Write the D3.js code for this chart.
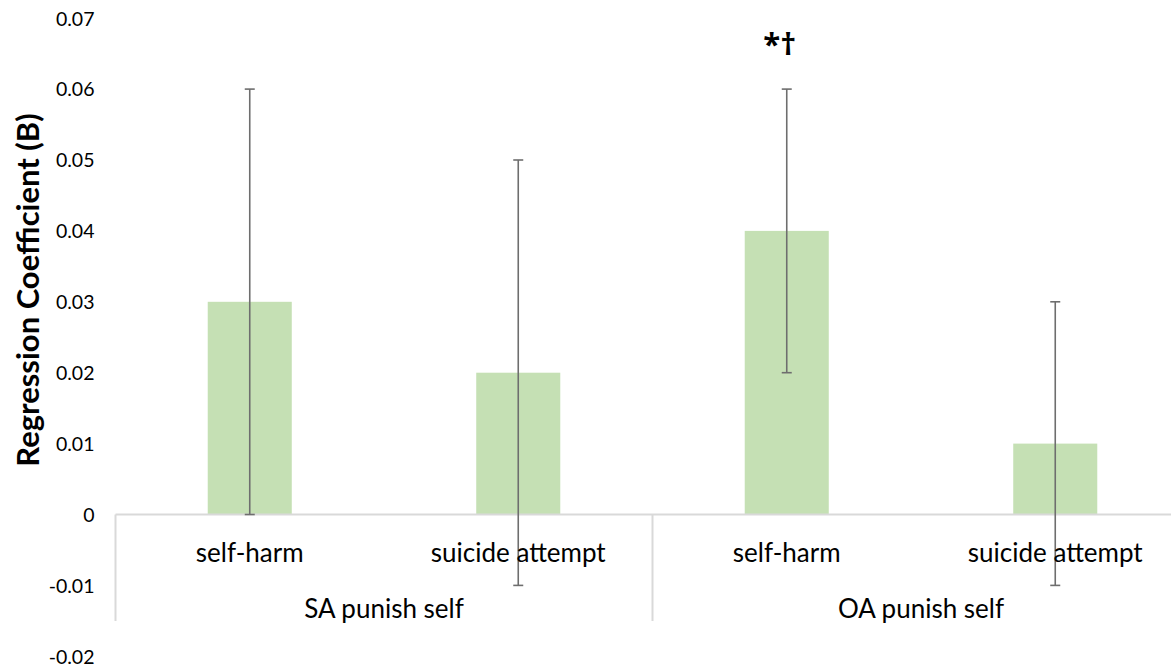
<!DOCTYPE html>
<html>
<head>
<meta charset="utf-8">
<script src="https://cdn.jsdelivr.net/npm/d3@7"></script>
<style>
  html, body { margin: 0; padding: 0; background: #ffffff; }
  svg { display: block; }
  text { font-family: Lato, "Open Sans", sans-serif; fill: #000; }
</style>
</head>
<body>
<svg id="chart" width="1171" height="669"></svg>
<script>
// ---- data ----
const groups = ["SA punish self", "OA punish self"];
const outcomes = ["self-harm", "suicide attempt"];
const values = [0.03, 0.02, 0.04, 0.01];
const lower = [0.00, -0.01, 0.02, -0.01];
const upper = [0.06, 0.05, 0.06, 0.03];
const annotations = ["", "", "*\u2020", ""];
const yTicks = [-0.02, -0.01, 0, 0.01, 0.02, 0.03, 0.04, 0.05, 0.06, 0.07];
const yTickLabels = ["-0.02", "-0.01", "0", "0.01", "0.02", "0.03", "0.04", "0.05", "0.06", "0.07"];
const yTitle = "Regression Coefficient (B)";

// categories built from groups x outcomes
const cats = [];
groups.forEach((g, gi) => outcomes.forEach((o, oi) => cats.push({ id: gi * outcomes.length + oi, group: g, outcome: o })));

const svg = d3.select("#chart");
const left = 115.5, right = 1189.5;

const y = d3.scaleLinear().domain([-0.02, 0.07]).range([656.3, 18.2]);
const xCat = d3.scaleBand().domain(cats.map(c => c.id)).range([left, right]).paddingInner(0.687).paddingOuter(0.3435);
const xGroup = d3.scaleBand().domain(groups).range([left, right]).padding(0);

// y axis (labels only)
const yAxis = d3.axisLeft(y).tickValues(yTicks).tickSize(0).tickPadding(0)
  .tickFormat((d, i) => yTickLabels[i]);
const gy = svg.append("g").attr("transform", "translate(94.5,0)").call(yAxis);
gy.select(".domain").remove();
gy.selectAll("text").style("font-family", "Lato, 'Open Sans', sans-serif").style("font-size", "19.5px").attr("fill", "#000").attr("dy", "0.35em");

// bars
svg.append("g").selectAll("rect").data(cats).join("rect")
  .attr("x", d => xCat(d.id))
  .attr("width", xCat.bandwidth())
  .attr("y", d => y(Math.max(0, values[d.id])))
  .attr("height", d => Math.abs(y(values[d.id]) - y(0)))
  .attr("fill", "#c5e0b4");

// category axis line & separators
const axisColor = "#d9d9d9";
svg.append("line").attr("x1", left).attr("x2", right).attr("y1", y(0)).attr("y2", y(0))
  .attr("stroke", axisColor).attr("stroke-width", 2);
const sepX = groups.map(g => xGroup(g)).concat([right]);
svg.append("g").selectAll("line").data(sepX).join("line")
  .attr("x1", d => d).attr("x2", d => d)
  .attr("y1", y(0)).attr("y2", 621)
  .attr("stroke", axisColor).attr("stroke-width", 2);

// error bars
const eb = svg.append("g").attr("stroke", "#6e6e6e").attr("stroke-width", 1.6);
const cx = d => xCat(d.id) + xCat.bandwidth() / 2;
eb.selectAll("line.v").data(cats).join("line").attr("class", "v")
  .attr("x1", cx).attr("x2", cx).attr("y1", d => y(lower[d.id])).attr("y2", d => y(upper[d.id]));
eb.selectAll("line.t").data(cats).join("line").attr("class", "t")
  .attr("x1", d => cx(d) - 5).attr("x2", d => cx(d) + 5).attr("y1", d => y(upper[d.id])).attr("y2", d => y(upper[d.id]));
eb.selectAll("line.b").data(cats).join("line").attr("class", "b")
  .attr("x1", d => cx(d) - 5).attr("x2", d => cx(d) + 5).attr("y1", d => y(lower[d.id])).attr("y2", d => y(lower[d.id]));

// category labels
svg.append("g").selectAll("text").data(cats).join("text")
  .attr("x", cx).attr("y", 553).attr("dy", "0.35em")
  .attr("text-anchor", "middle").style("font-size", "26px")
  .text(d => d.outcome);

// group labels
svg.append("g").selectAll("text").data(groups).join("text")
  .attr("x", d => xGroup(d) + xGroup.bandwidth() / 2).attr("y", 609).attr("dy", "0.35em")
  .attr("text-anchor", "middle").style("font-size", "26px")
  .text(d => d);

// annotations
svg.append("g").selectAll("text").data(cats.filter(d => annotations[d.id])).join("text")
  .attr("x", d => cx(d) - 7).attr("y", 55)
  .attr("text-anchor", "middle")
  .style("font-family", "'Open Sans', sans-serif")
  .style("font-size", "31px").style("font-weight", "bold")
  .text(d => annotations[d.id]);

// y title
svg.append("text")
  .attr("transform", "translate(28," + 290 + ") rotate(-90)")
  .attr("text-anchor", "middle").attr("dy", "0.35em")
  .style("font-size", "31px").style("font-weight", "bold")
  .text(yTitle);
</script>
</body>
</html>
